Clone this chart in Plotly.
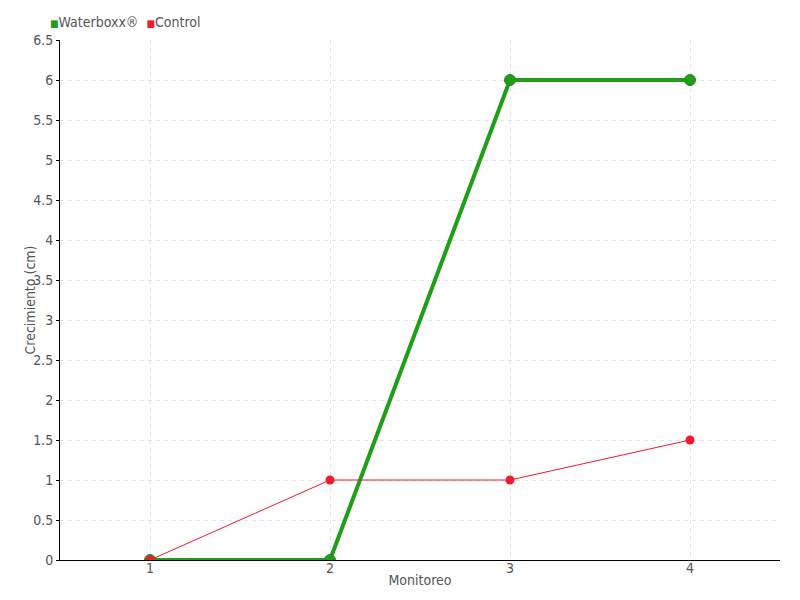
import plotly.graph_objects as go

monitoreo = [1, 2, 3, 4]
waterboxx = [0, 0, 6, 6]
control = [0, 1, 1, 1.5]
y_ticks = [0, 0.5, 1, 1.5, 2, 2.5, 3, 3.5, 4, 4.5, 5, 5.5, 6, 6.5]
series_names = ["Waterboxx®", "Control"]
y_title = "Crecimiento (cm)"
x_title = "Monitoreo"

FONT = "Liberation Sans Narrow, DejaVu Sans Condensed, DejaVu Sans"
GREEN = "#1f9e1a"
RED = "#ee1c2e"
TXT = "#555555"

fig = go.Figure()
fig.add_trace(go.Scatter(
    x=monitoreo, y=waterboxx, mode="lines+markers", name=series_names[0],
    line=dict(color=GREEN, width=4),
    marker=dict(size=11, color=GREEN, line=dict(color="#2d7d2a", width=1)),
    showlegend=False,
))
fig.add_trace(go.Scatter(
    x=monitoreo, y=control, mode="lines+markers", name=series_names[1],
    line=dict(color=RED, width=1),
    marker=dict(size=9, color=RED),
    showlegend=False,
))

legend_text = (f"<span style='color:{GREEN};font-size:10px'>■</span>{series_names[0]}  "
               f"<span style='color:{RED};font-size:10px'>■</span>{series_names[1]}")
fig.add_annotation(text=legend_text, xref="paper", yref="paper", x=-0.017, y=1.016,
                   xanchor="left", yanchor="bottom", showarrow=False,
                   font=dict(family=FONT, size=14, color=TXT))
fig.add_annotation(text=y_title, xref="paper", yref="paper", x=-0.041, y=0.5,
                   xanchor="center", yanchor="middle", textangle=-90, showarrow=False,
                   font=dict(family=FONT, size=14, color=TXT))

fig.update_layout(
    width=800, height=600,
    margin=dict(l=52, r=28, t=32, b=48, autoexpand=False),
    paper_bgcolor="white", plot_bgcolor="white",
    font=dict(family=FONT, size=14, color=TXT),
    showlegend=False,
    xaxis=dict(
        range=[0.5, 4.5], tickvals=monitoreo, ticktext=[str(v) for v in monitoreo],
        showgrid=True, gridcolor="#e3e3e3", griddash="4px,4px", gridwidth=1,
        showline=True, linecolor="black", linewidth=1,
        ticks="", ticklabelstandoff=-5,
        zeroline=False,
        title=dict(text=x_title, standoff=0, font=dict(size=14, color=TXT)),
    ),
    yaxis=dict(
        range=[0, 6.5], tickvals=y_ticks, ticktext=[f"{v:g}" for v in y_ticks],
        showgrid=True, gridcolor="#e3e3e3", griddash="4px,4px", gridwidth=1,
        showline=True, linecolor="black", linewidth=1,
        ticks="outside", ticklen=3, tickcolor="black",
        zeroline=False,
    ),
)

fig.write_html("out.html")
